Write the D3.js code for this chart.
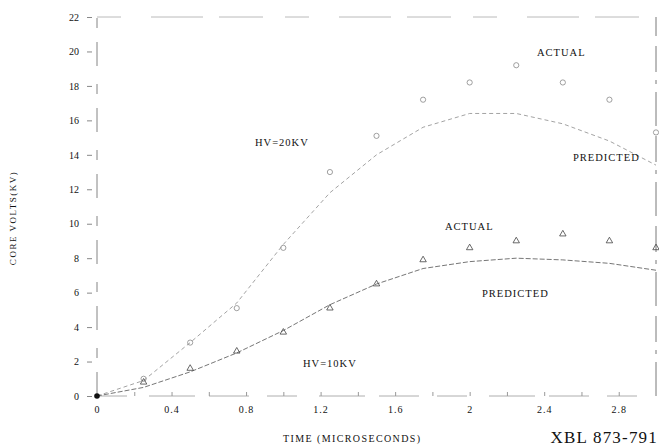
<!DOCTYPE html>
<html>
<head>
<meta charset="utf-8">
<script src="https://cdn.jsdelivr.net/npm/d3@7"></script>
<style>
  html, body { margin: 0; padding: 0; background: #fff; }
  svg { display: block; }
  text { font-family: "Liberation Serif", "DejaVu Serif", serif; fill: #111; }
</style>
</head>
<body>
<svg id="chart" width="659" height="447"></svg>
<script>
// Time points (microseconds)
const times = [0, 0.25, 0.5, 0.75, 1.0, 1.25, 1.5, 1.75, 2.0, 2.25, 2.5, 2.75, 3.0];

// HV = 20 kV: measured and predicted core voltage (kV)
const actual20 = [0, 1.0, 3.1, 5.1, 8.6, 13.0, 15.1, 17.2, 18.2, 19.2, 18.2, 17.2, 15.3];
const predicted20 = [0, 0.9, 3.1, 5.4, 8.8, 11.8, 14.0, 15.6, 16.4, 16.4, 15.8, 14.8, 13.4];

// HV = 10 kV: measured and predicted core voltage (kV)
const actual10 = [0, 0.8, 1.6, 2.6, 3.7, 5.1, 6.5, 7.9, 8.6, 9.0, 9.4, 9.0, 8.6];
const predicted10 = [0, 0.5, 1.4, 2.5, 3.8, 5.3, 6.5, 7.4, 7.8, 8.0, 7.9, 7.7, 7.3];

// Axis ticks
const xTickLabels = [0, 0.4, 0.8, 1.2, 1.6, 2, 2.4, 2.8];
const xMinorTicks = [0.2, 0.4, 0.6, 0.8, 1.0, 1.2, 1.4, 1.6, 1.8, 2.0, 2.2, 2.4, 2.6, 2.8];
const yTickLabels = [0, 2, 4, 6, 8, 10, 12, 14, 16, 18, 20, 22];

const svg = d3.select("#chart");

const x = d3.scaleLinear().domain([0, 3]).range([97, 656]);
const y = d3.scaleLinear().domain([0, 22]).range([396, 17]);

// Frame drawn as broken, pen-plotter style lines
const frame = svg.append("g")
  .attr("fill", "none")
  .attr("stroke-width", 0.8);
frame.append("line")
  .attr("x1", x(0)).attr("x2", x(3)).attr("y1", y(0)).attr("y2", y(0))
  .attr("stroke", "#9a9a9a")
  .attr("stroke-dasharray", "30 22 46 14 40 18");
frame.append("line")
  .attr("x1", x(0)).attr("x2", x(3)).attr("y1", y(22)).attr("y2", y(22))
  .attr("stroke", "#a8a8a8")
  .attr("stroke-dasharray", "24 30 52 16 44 22");
frame.append("line")
  .attr("x1", x(0)).attr("x2", x(0)).attr("y1", y(0)).attr("y2", y(22))
  .attr("stroke", "#666")
  .attr("stroke-dasharray", "24 14 10 18");
frame.append("line")
  .attr("x1", x(3)).attr("x2", x(3)).attr("y1", y(0)).attr("y2", y(22))
  .attr("stroke", "#555")
  .attr("stroke-dasharray", "34 8 4 8 26 10");

// Y axis: labels plus short outside ticks
const yAxis = d3.axisLeft(y)
  .tickValues(yTickLabels)
  .tickFormat(d3.format("d"))
  .tickSize(5)
  .tickPadding(8);
const gy = svg.append("g")
  .attr("transform", `translate(${x(0) - 5},0)`)
  .call(yAxis);
gy.select(".domain").remove();
gy.selectAll(".tick line").attr("stroke", "#888");
gy.selectAll(".tick text")
  .attr("font-family", "Liberation Serif, serif")
  .attr("font-size", 10)
  .attr("fill", "#222");

// X axis: inward minor ticks, labels below
const gxTicks = svg.append("g")
  .attr("transform", `translate(0,${y(0)})`)
  .call(d3.axisTop(x).tickValues(xMinorTicks).tickFormat("").tickSize(4));
gxTicks.select(".domain").remove();
gxTicks.selectAll(".tick line").attr("stroke", "#999");

const gx = svg.append("g")
  .attr("transform", `translate(0,${y(0)})`)
  .call(d3.axisBottom(x).tickValues(xTickLabels).tickSize(0).tickPadding(10)
    .tickFormat(d => d3.format("~g")(d)));
gx.select(".domain").remove();
gx.selectAll(".tick text")
  .attr("font-family", "Liberation Serif, serif")
  .attr("font-size", 10)
  .attr("letter-spacing", "1px")
  .attr("fill", "#222");

// Predicted curves
const line = d3.line()
  .x((d, i) => x(times[i]))
  .y(d => y(d));

svg.append("path")
  .datum(predicted20)
  .attr("d", line)
  .attr("fill", "none")
  .attr("stroke", "#999")
  .attr("stroke-width", 0.9)
  .attr("stroke-dasharray", "4 3");

svg.append("path")
  .datum(predicted10)
  .attr("d", line)
  .attr("fill", "none")
  .attr("stroke", "#666")
  .attr("stroke-width", 0.9)
  .attr("stroke-dasharray", "5 2");

// Measured points: small open circles for 20 kV, triangles for 10 kV
svg.append("g")
  .selectAll("circle")
  .data(actual20.slice(1))
  .join("circle")
  .attr("cx", (d, i) => x(times[i + 1]))
  .attr("cy", d => y(d))
  .attr("r", 2.6)
  .attr("fill", "none")
  .attr("stroke", "#888")
  .attr("stroke-width", 0.8);

const tri = d3.symbol().type(d3.symbolTriangle).size(18);
svg.append("g")
  .selectAll("path")
  .data(actual10.slice(1))
  .join("path")
  .attr("transform", (d, i) => `translate(${x(times[i + 1])},${y(d)})`)
  .attr("d", tri)
  .attr("fill", "none")
  .attr("stroke", "#444")
  .attr("stroke-width", 0.8);

// Common origin point
svg.append("circle")
  .attr("cx", x(times[0]))
  .attr("cy", y(actual10[0]))
  .attr("r", 2.8)
  .attr("fill", "#111");

// Annotations
const note = (tx, ty, s) =>
  svg.append("text")
    .attr("x", tx).attr("y", ty)
    .attr("font-size", 10.5)
    .attr("letter-spacing", "1px")
    .text(s);

note(537, 56, "ACTUAL");
note(255, 146, "HV=20KV");
note(573, 161, "PREDICTED");
note(445, 230, "ACTUAL");
note(482, 297, "PREDICTED");
note(303, 367, "HV=10KV");

// Axis titles
svg.append("text")
  .attr("x", 283).attr("y", 442)
  .attr("font-size", 10)
  .attr("letter-spacing", "1.4px")
  .text("TIME  (MICROSECONDS)");

svg.append("text")
  .attr("transform", "translate(16,218) rotate(-90)")
  .attr("text-anchor", "middle")
  .attr("font-size", 9)
  .attr("fill", "#333")
  .attr("letter-spacing", "1.5px")
  .text("CORE  VOLTS(KV)");

// Drawing reference number
svg.append("text")
  .attr("x", 658).attr("y", 443)
  .attr("text-anchor", "end")
  .attr("font-family", "DejaVu Sans, sans-serif")
  .attr("font-size", 17)
  .attr("letter-spacing", "1.2px")
  .text("XBL 873-791");
</script>
</body>
</html>
